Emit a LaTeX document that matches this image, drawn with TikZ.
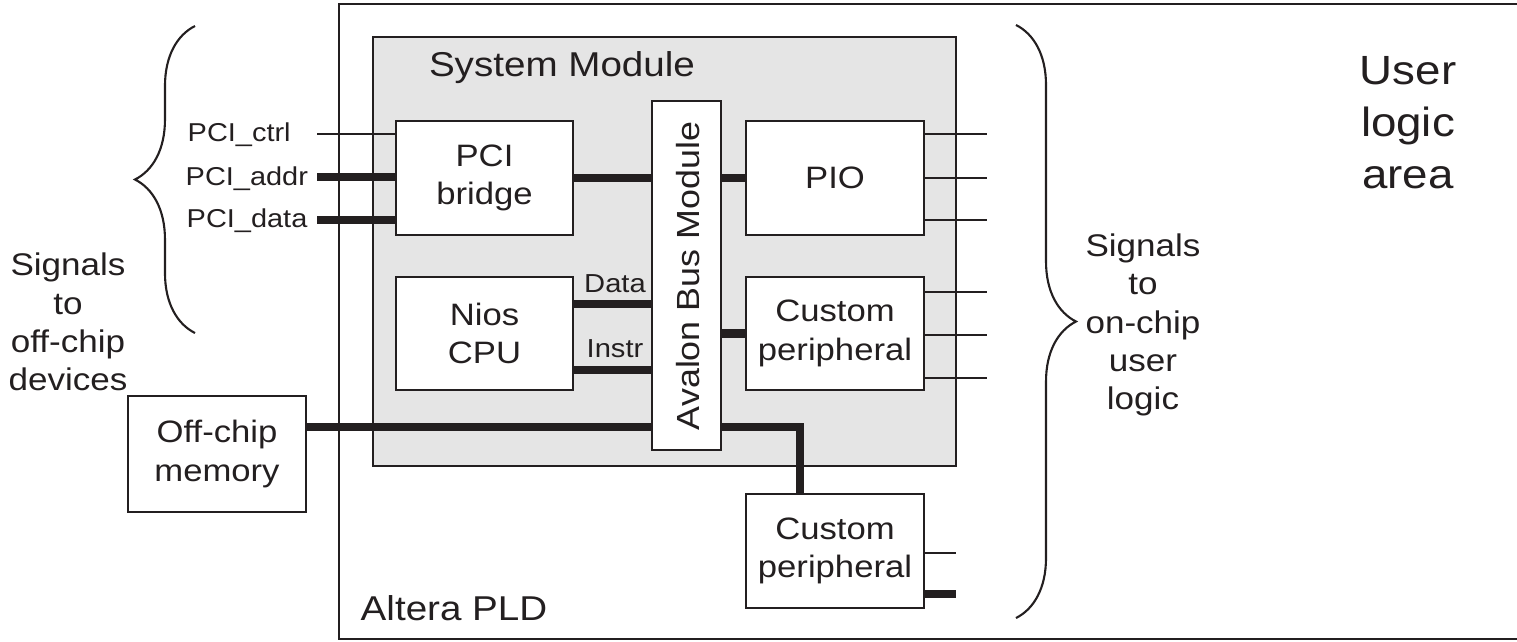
\documentclass[tikz,border=0pt]{standalone}
\usepackage{fontspec}
\setmainfont{Liberation Sans}[FakeStretch=1.12]
\usetikzlibrary{decorations.pathreplacing}
\definecolor{ink}{HTML}{231F20}
\begin{document}
\begin{tikzpicture}[x=0.01cm,y=-0.01cm,
  box/.style={draw=ink, fill=white, line width=0.6pt, text=ink, align=center, inner sep=0pt,
    font=\fontsize{8.8}{11}\selectfont},
  bus/.style={draw=ink, line width=2.4pt},
  wire/.style={draw=ink, line width=0.6pt},
  lbl/.style={text=ink, inner sep=0pt, align=center},
  pcil/.style={lbl, anchor=west, font=\fontsize{7.35}{9}\selectfont},
  brc/.style={draw=ink, line width=0.6pt, decorate, decoration={brace, amplitude=0.6cm}}]
\useasboundingbox (0,0) rectangle (1517,641);
% outer Altera PLD region
\draw[wire] (1517,4) -- (339,4) -- (339,639) -- (1517,639);
\node[lbl, anchor=west, font=\fontsize{9.8}{12}\selectfont] (altera) at (360,608) {Altera PLD};
% system module
\node[draw=ink, fill=gray!20, line width=0.6pt, minimum width=5.83cm, minimum height=4.29cm, inner sep=0pt] (sys) at (664.5,251.5) {};
\node[lbl, font=\fontsize{9.8}{12}\selectfont] (systitle) at (562,68) {System Module};
% coordinates of wire ends
\coordinate (ctrlL) at (317,134);
\coordinate (addrL) at (317,177);
\coordinate (dataPL) at (317,220);
\coordinate (dataL) at (573,304);
\coordinate (instrL) at (573,370);
\coordinate (memL) at (306,427);
\coordinate (c2T) at (800,494);
% boxes
\node[box, minimum width=1.77cm, minimum height=1.14cm] (bridge) at (484.5,178) {PCI\\bridge};
\node[box, minimum width=1.77cm, minimum height=1.13cm] (nios) at (484.5,333.5) {Nios\\CPU};
\node[box, minimum width=0.69cm, minimum height=3.49cm] (avalon) at (686.5,275.5) {};
\node[lbl, rotate=90, font=\fontsize{9.1}{11}\selectfont] (avtext) at (688,276) {Avalon Bus Module};
\node[box, minimum width=1.78cm, minimum height=1.14cm] (pio) at (835,178) {PIO};
\node[box, minimum width=1.78cm, minimum height=1.13cm] (c1) at (835,333.5) {Custom\\peripheral};
\node[box, minimum width=1.78cm, minimum height=1.14cm] (c2) at (835,551) {Custom\\peripheral};
\node[box, minimum width=1.78cm, minimum height=1.16cm] (mem) at (217,454) {Off-chip\\memory};
% PCI signals
\node[pcil] (pcictrl) at (187,135) {PCI\_ctrl};
\node[pcil] (pciaddr) at (185,179) {PCI\_addr};
\node[pcil] (pcidata) at (186,221) {PCI\_data};
\draw[wire] (ctrlL) -- (ctrlL -| bridge.west);
\draw[bus] (addrL) -- (addrL -| bridge.west);
\draw[bus] (dataPL) -- (dataPL -| bridge.west);
% buses to Avalon
\draw[bus] (bridge.east) -- (bridge.east -| avalon.west);
\draw[bus] (dataL) -- (dataL -| avalon.west);
\draw[bus] (instrL) -- (instrL -| avalon.west);
\node[lbl, font=\fontsize{7.4}{9}\selectfont] (datalbl) at (615,284) {Data};
\node[lbl, font=\fontsize{7.4}{9}\selectfont] (instrlbl) at (615,349) {Instr};
\draw[bus] (pio.west) -- (pio.west -| avalon.east);
\draw[bus] (c1.west) -- (c1.west -| avalon.east);
\draw[bus] (memL) -- (memL -| avalon.west);
\draw[bus] (avalon.east |- memL) -| (c2T);
% outputs
\foreach \y in {134,178,220}{\draw[wire] (pio.east |- 0,\y) -- (987,\y);}
\foreach \y in {292,335,378}{\draw[wire] (c1.east |- 0,\y) -- (987,\y);}
\draw[wire] (c2.east |- 0,553) -- (956,553);
\draw[bus] (c2.east |- 0,594) -- (956,594);
% braces
\draw[brc] (195,333) -- (195,26);
\draw[brc] (1016,25) -- (1016,618);
\node[lbl, font=\fontsize{8.9}{10.9}\selectfont] (offsig) at (68,322) {Signals\\to\\off-chip\\devices};
\node[lbl, font=\fontsize{8.9}{10.9}\selectfont] (onsig) at (1143,325) {Signals\\to\\on-chip\\user\\logic};
\node[lbl, font=\fontsize{11.6}{14.8}\selectfont] (user) at (1408,123) {User\\logic\\area};
\end{tikzpicture}
\end{document}
